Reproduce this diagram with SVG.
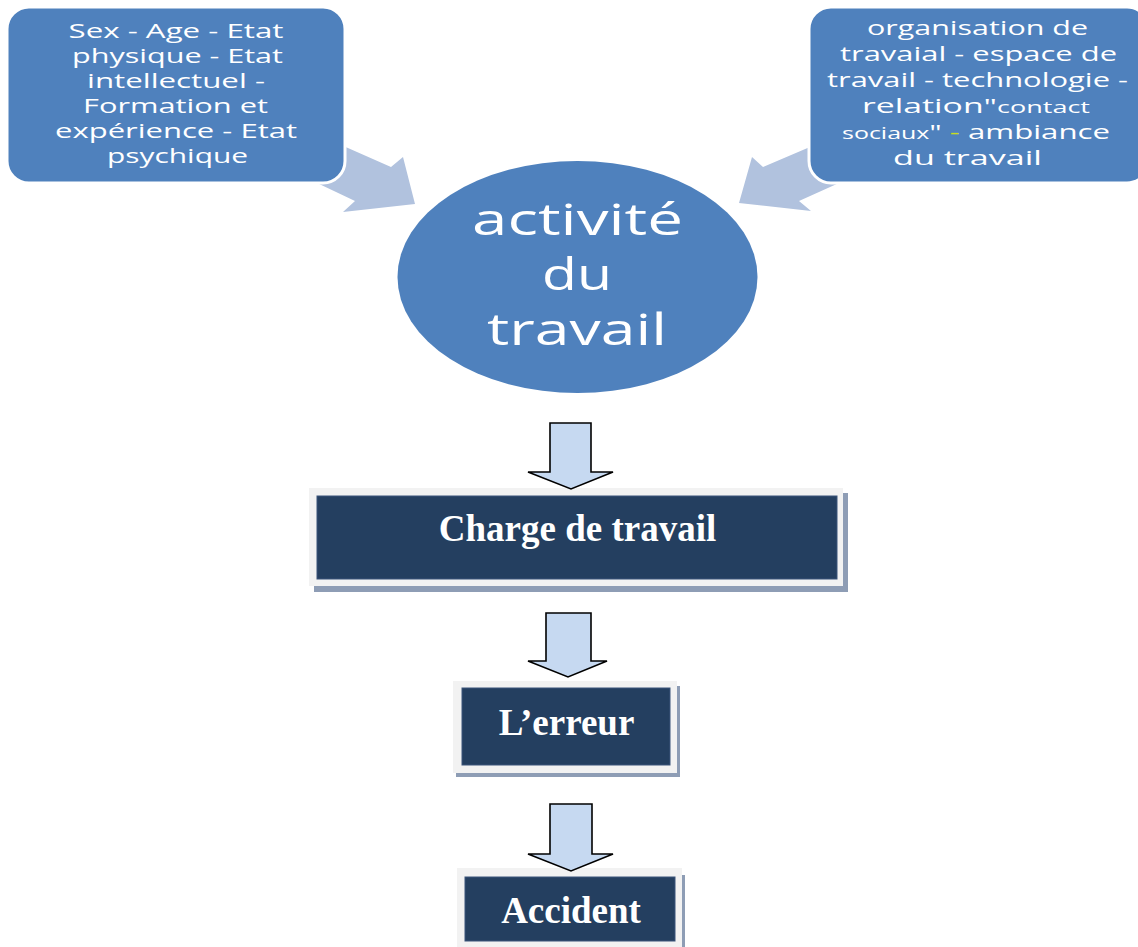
<svg xmlns="http://www.w3.org/2000/svg" width="1138" height="947" viewBox="0 0 1138 947">
<style>
.side{fill:#B1C2DE;stroke:none}
.down{fill:#C6D9F1;stroke:#000;stroke-width:1.6;stroke-linejoin:miter}
.blue{fill:#4F81BD;stroke:#fff;stroke-width:3}
.st{font-family:"Open Sans","DejaVu Sans",sans-serif;fill:#fff;text-anchor:middle}
.sm{font-size:20px}
.big{font-size:43px}
.frame{fill:#F2F2F2}
.shadow{fill:#8E9DB5}
.dark{fill:#243F60;stroke:#3A557A;stroke-width:1}
.bt{font-family:"Liberation Serif","Times New Roman",serif;font-weight:bold;font-size:37px;fill:#fff;text-anchor:middle}
</style>
<rect width="1138" height="947" fill="#fff"/>
<g id="connectors">
  <polygon class="side" points="323,137 391,167 403,157 415,204 343,212 355,201 296,173"/>
  <polygon class="side" points="831,138 763,167 752,157 739,203 811,211 799,201 859,174"/>
</g>
<g id="node-left">
  <rect class="blue" x="7" y="7" width="338" height="176" rx="22" ry="22"/>
  <text class="st sm" x="176" y="37.5" textLength="215" lengthAdjust="spacingAndGlyphs">Sex - Age - Etat</text>
  <text class="st sm" x="177.5" y="62.5" textLength="211" lengthAdjust="spacingAndGlyphs">physique - Etat</text>
  <text class="st sm" x="176" y="87.5" textLength="178" lengthAdjust="spacingAndGlyphs">intellectuel -</text>
  <text class="st sm" x="175.5" y="112.5" textLength="185" lengthAdjust="spacingAndGlyphs">Formation et</text>
  <text class="st sm" x="176" y="137.5" textLength="242" lengthAdjust="spacingAndGlyphs">expérience - Etat</text>
  <text class="st sm" x="177.5" y="162.5" textLength="141" lengthAdjust="spacingAndGlyphs">psychique</text>
</g>
<g id="node-right">
  <rect class="blue" x="809" y="7" width="340" height="176" rx="22" ry="22"/>
  <text class="st sm" x="977.5" y="35" textLength="221" lengthAdjust="spacingAndGlyphs">organisation de</text>
  <text class="st sm" x="978.5" y="61" textLength="277" lengthAdjust="spacingAndGlyphs">travaial - espace de</text>
  <text class="st sm" x="977.5" y="87" textLength="301" lengthAdjust="spacingAndGlyphs">travail - technologie -</text>
  <text class="st sm" x="976" y="113" textLength="228" lengthAdjust="spacingAndGlyphs">relation"<tspan font-size="16">contact</tspan></text>
  <text class="st sm" x="976" y="139" textLength="268" lengthAdjust="spacingAndGlyphs"><tspan font-size="16">sociaux</tspan>" <tspan fill="#C8DC1E">-</tspan> ambiance</text>
  <text class="st sm" x="967.5" y="165" textLength="149" lengthAdjust="spacingAndGlyphs">du travail</text>
</g>
<g id="node-activite">
  <ellipse cx="577.5" cy="277" rx="180" ry="116" fill="#4F81BD"/>
  <text class="st big" x="577.5" y="235" textLength="211" lengthAdjust="spacingAndGlyphs">activité</text>
  <text class="st big" x="577" y="290" textLength="70" lengthAdjust="spacingAndGlyphs">du</text>
  <text class="st big" x="577" y="345" textLength="180" lengthAdjust="spacingAndGlyphs">travail</text>
</g>
<g id="node-charge">
  <rect class="shadow" x="314" y="493" width="534" height="99"/>
  <rect class="frame" x="309" y="488" width="534" height="98"/>
  <rect class="dark" x="317" y="496" width="520" height="83"/>
  <text class="bt" x="577.5" y="541">Charge de travail</text>
</g>
<g id="node-erreur">
  <rect class="shadow" x="456" y="686" width="224" height="91"/>
  <rect class="frame" x="453" y="681" width="224" height="92"/>
  <rect class="dark" x="462" y="688" width="208" height="77"/>
  <text class="bt" x="566.5" y="735">L’erreur</text>
</g>
<g id="node-accident">
  <rect class="shadow" x="460" y="875" width="225" height="80"/>
  <rect class="frame" x="457" y="868" width="225" height="85"/>
  <rect class="dark" x="465" y="877" width="210" height="64"/>
  <text class="bt" x="571" y="923">Accident</text>
</g>
<g id="connectors-down">
  <polygon class="down" points="550,423 591,423 591,472 613,472 571,489 528,472 550,472"/>
  <polygon class="down" points="546,613 591,613 591,661 607,661 568,677 528,661 546,661"/>
  <polygon class="down" points="550,804 592,804 592,854 613,854 571,871 528,854 550,854"/>
</g>
</svg>
